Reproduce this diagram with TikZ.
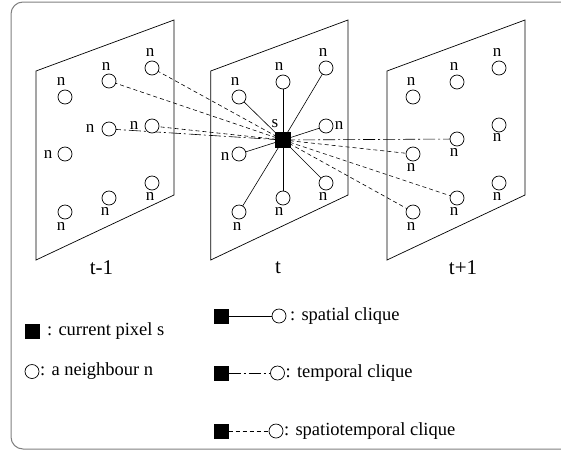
\documentclass[tikz,border=0pt]{standalone}
\usepackage{fontspec}
\setmainfont{Liberation Serif}
\newfontfamily\tmsfont{Liberation Serif}
\begin{document}
\begin{tikzpicture}[x=1pt,y=-1pt,
  nb/.style={draw,circle,minimum size=14pt,inner sep=0pt,line width=0.7pt,fill=white},
  px/.style={draw,fill=black,minimum size=15pt,inner sep=0pt},
  lab/.style={inner sep=0pt,font=\tmsfont\fontsize{17}{18}\selectfont},
  big/.style={inner sep=0pt,font=\tmsfont\fontsize{18.5}{20}\selectfont},
  ttl/.style={inner sep=0pt,font=\tmsfont\fontsize{21}{22}\selectfont},
  panel/.style={draw,line width=0.7pt},
  spat/.style={line width=0.6pt},
  temp/.style={line width=0.6pt,dash pattern=on 12pt off 3pt on 2pt off 3pt},
  sptemp/.style={line width=0.6pt,dash pattern=on 4pt off 3pt}]
\useasboundingbox (0,0) rectangle (561,450);
\draw[gray,line width=1pt,rounded corners=12pt] (563,2) -- (11,2) -- (11,449) -- (563,449);
% panels
\draw[panel] (36,71) -- (174,20) -- (174,195) -- (36,260) -- cycle;
\draw[panel] (210.7,71) -- (348,20) -- (348,195) -- (210.7,260) -- cycle;
\draw[panel] (387,71) -- (525,20) -- (525,195) -- (387,260) -- cycle;
\node[ttl] (tm1) at (101.5,268) {t-1};
\node[ttl] (t0) at (278,268) {t};
\node[ttl] (tp1) at (463,268) {t+1};
% coordinates of pixel and neighbours
\coordinate (sc) at (283,140);
% left panel
\coordinate (pl1) at (65,97); \coordinate (pl2) at (109,81); \coordinate (pl3) at (152,68);
\coordinate (pl4) at (109,129); \coordinate (pl5) at (152,126); \coordinate (pl6) at (65,154);
\coordinate (pl7) at (65,212); \coordinate (pl8) at (109,198); \coordinate (pl9) at (152,183);
% mid panel
\coordinate (pm1) at (239,97); \coordinate (pm2) at (283,82); \coordinate (pm3) at (326,68);
\coordinate (pm4) at (326,126); \coordinate (pm5) at (239,154); \coordinate (pm6) at (326,183);
\coordinate (pm7) at (283,198); \coordinate (pm8) at (239,212);
% right panel
\coordinate (pr1) at (413,97); \coordinate (pr2) at (457,82); \coordinate (pr3) at (499,68);
\coordinate (pr4) at (499,125); \coordinate (pr5) at (457,139); \coordinate (pr6) at (413,154);
\coordinate (pr7) at (413,212); \coordinate (pr8) at (457,198); \coordinate (pr9) at (499,183);
% connectors
\foreach \i in {1,...,8} \draw[spat] (sc) -- (pm\i);
\draw[temp] (pl4) -- (sc);
\draw[temp] (sc) -- (pr5);
\foreach \p in {pl2,pl3,pl5,pr6,pr8,pr7} \draw[sptemp] (sc) -- (\p);
% nodes
\foreach \i in {1,...,9} \node[nb] (l\i) at (pl\i) {};
\foreach \i in {1,...,8} \node[nb] (m\i) at (pm\i) {};
\foreach \i in {1,...,9} \node[nb] (r\i) at (pr\i) {};
\node[px] (s) at (sc) {};
\node[lab] (slab) at (275,124) {s};
% n labels left
\node[lab] (nl1) at (61,81) {n}; \node[lab] (nl2) at (106,66) {n}; \node[lab] (nl3) at (150,52) {n};
\node[lab] (nl4) at (90,128) {n}; \node[lab] (nl5) at (134,125) {n}; \node[lab] (nl6) at (48,154) {n};
\node[lab] (nl7) at (61,226) {n}; \node[lab] (nl8) at (105,211) {n}; \node[lab] (nl9) at (150,196) {n};
% n labels mid
\node[lab] (nm1) at (235,81) {n}; \node[lab] (nm2) at (279,66) {n}; \node[lab] (nm3) at (323,52) {n};
\node[lab] (nm4) at (339,125) {n}; \node[lab] (nm5) at (225,156) {n}; \node[lab] (nm6) at (323,196) {n};
\node[lab] (nm7) at (279,211) {n}; \node[lab] (nm8) at (237,226) {n};
% n labels right
\node[lab] (nr1) at (411,81) {n}; \node[lab] (nr2) at (454,66) {n}; \node[lab] (nr3) at (497,52) {n};
\node[lab] (nr4) at (497,137) {n}; \node[lab] (nr5) at (454,152) {n}; \node[lab] (nr6) at (411,167) {n};
\node[lab] (nr7) at (411,226) {n}; \node[lab] (nr8) at (454,211) {n}; \node[lab] (nr9) at (497,196) {n};
% legend left
\node[px,minimum size=14pt] (lg1) at (32.5,331) {};
\node[big,anchor=west] (lg1t) at (47,331) {: current pixel s};
\node[nb] (lg2) at (32,371.5) {};
\node[big,anchor=west] (lg2t) at (40,371.5) {: a neighbour n};
% legend right
\node[px,minimum size=14pt] (ls1) at (221.5,316) {};
\node[nb] (lc1) at (279,316) {};
\draw[spat] (ls1) -- (lc1);
\node[big,anchor=west] (lt1) at (290,316) {: spatial clique};
\node[px,minimum size=14pt] (ls2) at (221.5,373) {};
\node[nb] (lc2) at (277.5,373) {};
\draw[temp] (ls2) -- (lc2);
\node[big,anchor=west] (lt2) at (285.5,373) {: temporal clique};
\node[px,minimum size=14pt] (ls3) at (221.5,431) {};
\node[nb] (lc3) at (276,431) {};
\draw[sptemp] (ls3) -- (lc3);
\node[big,anchor=west] (lt3) at (284,431) {: spatiotemporal clique};
\end{tikzpicture}
\end{document}
